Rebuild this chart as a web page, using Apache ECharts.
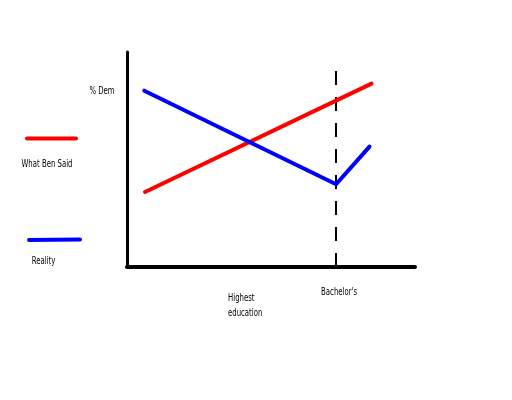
<!DOCTYPE html>
<html>
<head>
<meta charset="utf-8">
<script src="https://cdn.jsdelivr.net/npm/echarts@6/dist/echarts.min.js"></script>
<style>html,body{margin:0;padding:0;background:#fff;}#c{width:512px;height:400px;}</style>
</head>
<body>
<div id="c"></div>
<script>
// Education position (0-100 scale) and % Dem (0-100 scale)
const saidX = [6.25, 84.9];
const saidY = [34.9, 85.3];
const realityX = [6.0, 72.6, 84.2];
const realityY = [82.0, 38.5, 56.0];
const bachelorX = 72.6;
const bachelorTop = 92.6;
const seriesNames = ['What Ben Said', 'Reality'];
const yAxisTitle = '% Dem';
const xAxisTitle = ['Highest', 'education'];
const markLabel = "Bachelor's";

const FONT = "'Liberation Sans Narrow', 'DejaVu Sans Condensed', sans-serif";
const SX = 0.7;
const chart = echarts.init(document.getElementById('c'), null, {renderer: 'canvas'});
const pair = (xs, ys) => xs.map((x, i) => [x, ys[i]]);

function label(text, x, y, align) {
  return {
    type: 'text', x: x, y: y, scaleX: SX, silent: true,
    style: {text: text, x: 0, y: 0, fill: '#000', font: '11px ' + FONT,
            align: align, verticalAlign: 'middle',
            textAlign: align, textVerticalAlign: 'middle'}
  };
}

chart.setOption({
  animation: false,
  backgroundColor: '#fff',
  grid: {left: 127, right: 97, top: 52, bottom: 133},
  xAxis: {
    type: 'value', min: 0, max: 100,
    axisLine: {show: true, lineStyle: {color: '#000', width: 4}},
    axisTick: {show: false}, axisLabel: {show: false}, splitLine: {show: false}
  },
  yAxis: {
    type: 'value', min: 0, max: 100,
    axisLine: {show: true, lineStyle: {color: '#000', width: 3}},
    axisTick: {show: false}, axisLabel: {show: false}, splitLine: {show: false}
  },
  series: [
    {
      name: seriesNames[0], type: 'line', data: pair(saidX, saidY),
      showSymbol: false, symbol: 'none',
      lineStyle: {color: '#ff0000', width: 4, cap: 'round'},
      z: 3
    },
    {
      name: seriesNames[1], type: 'line', data: pair(realityX, realityY),
      showSymbol: false, symbol: 'none',
      lineStyle: {color: '#0000ff', width: 4, cap: 'round', join: 'round'},
      z: 4,
      markLine: {
        silent: true, symbol: ['none', 'none'],
        lineStyle: {color: '#000', width: 2, type: [14, 12]},
        label: {show: false},
        data: [[{coord: [bachelorX, 0]}, {coord: [bachelorX, bachelorTop]}]],
        z: 2
      }
    }
  ]
});

const bp = chart.convertToPixel({xAxisIndex: 0, yAxisIndex: 0}, [bachelorX, 0]);
chart.setOption({
  graphic: [
    label(yAxisTitle, 102, 91, 'center'),
    label(xAxisTitle[0], 228, 298, 'left'),
    label(xAxisTitle[1], 228, 313.5, 'left'),
    label(markLabel, bp[0] + 3, bp[1] + 25.5, 'center'),
    {type: 'line', shape: {x1: 27, y1: 138.5, x2: 76, y2: 138.5}, style: {stroke: '#ff0000', lineWidth: 4, lineCap: 'round'}},
    label(seriesNames[0], 47, 164, 'center'),
    {type: 'line', shape: {x1: 29, y1: 240, x2: 80, y2: 239.5}, style: {stroke: '#0000ff', lineWidth: 4, lineCap: 'round'}},
    label(seriesNames[1], 43.5, 261.5, 'center')
  ]
});
</script>
</body>
</html>
